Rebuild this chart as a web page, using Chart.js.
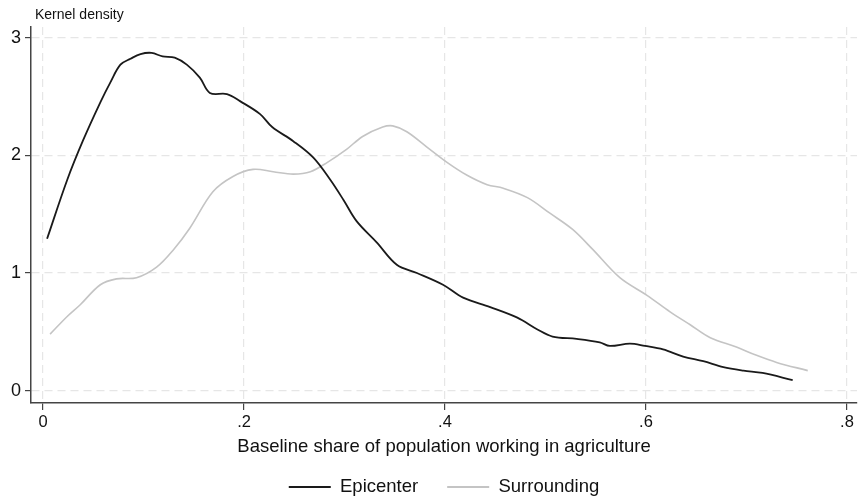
<!DOCTYPE html>
<html>
<head>
<meta charset="utf-8">
<script src="https://cdn.jsdelivr.net/npm/chart.js@4/dist/chart.umd.min.js"></script>
<style>
  body { margin: 0; background: #fff; }
  #wrap { width: 858px; height: 497px; }
</style>
</head>
<body>
<div id="wrap"><canvas id="densityChart" width="858" height="497"></canvas></div>
<script>
// values
const xTicks = [0, 0.2, 0.4, 0.6, 0.8];
const yTicks = [0, 1, 2, 3];

const epicenterX = [0.004, 0.024, 0.040, 0.057, 0.067, 0.077, 0.087, 0.097, 0.108, 0.119,
  0.131, 0.143, 0.156, 0.166, 0.183, 0.196, 0.216, 0.228, 0.249, 0.269,
  0.286, 0.299, 0.312, 0.332, 0.352, 0.372, 0.398, 0.418, 0.445, 0.472,
  0.492, 0.507, 0.531, 0.554, 0.564, 0.584, 0.599, 0.617, 0.637, 0.657,
  0.677, 0.697, 0.716, 0.746];
const epicenterY = [1.29, 1.79, 2.13, 2.45, 2.62, 2.77, 2.82, 2.86, 2.87, 2.84,
  2.83, 2.77, 2.66, 2.53, 2.52, 2.46, 2.35, 2.24, 2.12, 1.98,
  1.79, 1.62, 1.44, 1.26, 1.07, 1.00, 0.90, 0.79, 0.71, 0.62,
  0.52, 0.46, 0.44, 0.41, 0.38, 0.40, 0.38, 0.35, 0.29, 0.25,
  0.20, 0.17, 0.15, 0.09];

const surroundingX = [0.007, 0.024, 0.037, 0.057, 0.073, 0.093, 0.113, 0.130, 0.146, 0.169,
  0.189, 0.209, 0.229, 0.249, 0.266, 0.283, 0.302, 0.318, 0.338, 0.348,
  0.362, 0.382, 0.402, 0.422, 0.442, 0.458, 0.482, 0.504, 0.527, 0.547,
  0.574, 0.601, 0.624, 0.644, 0.664, 0.690, 0.710, 0.730, 0.761];
const surroundingY = [0.48, 0.63, 0.73, 0.90, 0.95, 0.96, 1.05, 1.20, 1.38, 1.69,
  1.82, 1.88, 1.86, 1.84, 1.86, 1.94, 2.05, 2.16, 2.24, 2.25,
  2.20, 2.07, 1.94, 1.83, 1.75, 1.72, 1.64, 1.51, 1.37, 1.20,
  0.96, 0.81, 0.67, 0.56, 0.45, 0.37, 0.30, 0.24, 0.17];

function toPoints(xs, ys) {
  return xs.map((x, i) => ({ x: x, y: ys[i] }));
}

function fmtShare(v) {
  if (v === 0) return "0";
  return String(+v.toFixed(1)).replace(/^0/, "");
}

const FONT = "'Liberation Sans', Arial, sans-serif";
const LEGEND_PAD = 29;
const LEGEND_FONT = 18.5;

// y axis caption at top left + put legend under the plot area
const extras = {
  id: "extras",
  afterLayout(chart) {
    const lg = chart.legend;
    const area = chart.chartArea;
    const w = lg.right - lg.left;
    const h = lg.bottom - lg.top;
    lg.left = (area.left + area.right) / 2 - w / 2;
    lg.right = lg.left + w;
    lg.top = 487 - LEGEND_PAD - LEGEND_FONT / 2;
    lg.bottom = lg.top + h;
  },
  afterDraw(chart) {
    const ctx = chart.ctx;
    ctx.save();
    ctx.font = "14px " + FONT;
    ctx.fillStyle = "#111";
    ctx.textBaseline = "alphabetic";
    ctx.fillText("Kernel density", 35, 19);
    ctx.restore();
  }
};

const ctx = document.getElementById("densityChart").getContext("2d");
new Chart(ctx, {
  type: "line",
  data: {
    datasets: [
      {
        label: "Epicenter",
        data: toPoints(epicenterX, epicenterY),
        borderColor: "#1a1a1a",
        backgroundColor: "#1a1a1a",
        borderWidth: 1.8,
        pointRadius: 0,
        tension: 0.35,
        fill: false,
      },
      {
        label: "Surrounding",
        data: toPoints(surroundingX, surroundingY),
        borderColor: "#c4c4c4",
        backgroundColor: "#c4c4c4",
        borderWidth: 1.6,
        pointRadius: 0,
        tension: 0.35,
        fill: false,
      },
    ],
  },
  options: {
    responsive: false,
    animation: false,
    layout: { padding: { top: 27, right: 1, left: 0, bottom: 497 - (461 + LEGEND_FONT + LEGEND_PAD + 10) } },
    plugins: {
      tooltip: { enabled: false },
      legend: {
        position: "bottom",
        labels: {
          boxWidth: 42,
          boxHeight: 2,
          padding: LEGEND_PAD,
          color: "#111",
          font: { family: FONT, size: LEGEND_FONT },
          generateLabels(chart) {
            return Chart.defaults.plugins.legend.labels.generateLabels(chart)
              .map(l => Object.assign(l, { lineWidth: 0 }));
          },
        },
      },
    },
    scales: {
      x: {
        type: "linear",
        min: -0.012,
        max: 0.81,
        afterBuildTicks(scale) {
          scale.ticks = xTicks.map(v => ({ value: v }));
        },
        afterFit(scale) {
          scale.height = 58;
        },
        grid: { color: "#e6e6e6", lineWidth: 1.2, tickLength: 7, tickColor: "#444", tickWidth: 1.2 },
        border: { color: "#444", width: 1.5, dash: [8, 5] },
        ticks: {
          callback: v => fmtShare(v),
          color: "#111",
          padding: 3,
          maxRotation: 0,
          font: { family: FONT, size: 16.5 },
        },
        title: {
          display: true,
          text: "Baseline share of population working in agriculture",
          color: "#111",
          padding: { top: 3, bottom: 3 },
          font: { family: FONT, size: 18.5 },
        },
      },
      y: {
        min: -0.105,
        max: 3.09,
        afterBuildTicks(scale) {
          scale.ticks = yTicks.map(v => ({ value: v }));
        },
        afterFit(scale) {
          scale.width = 31;
        },
        grid: { color: "#e6e6e6", lineWidth: 1.2, tickLength: 6, tickColor: "#444", tickWidth: 1.2 },
        border: { color: "#444", width: 1.5, dash: [8, 5] },
        ticks: {
          color: "#111",
          padding: 4,
          font: { family: FONT, size: 18 },
        },
      },
    },
  },
  plugins: [extras],
});
</script>
</body>
</html>
